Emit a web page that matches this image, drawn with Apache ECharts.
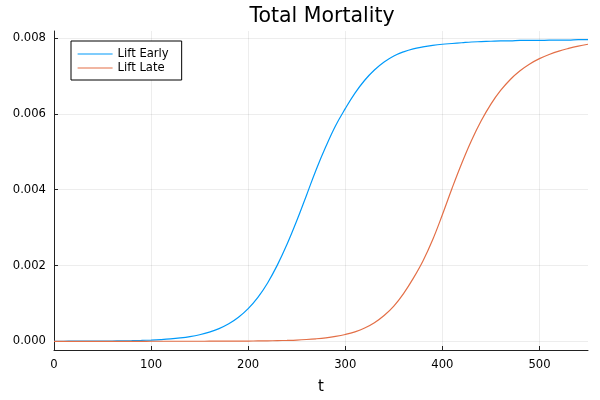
<!DOCTYPE html>
<html>
<head>
    <meta charset="utf-8">
    <style>
        html, body { margin: 0; padding: 0; background: #fff; }
        #chart { width: 600px; height: 400px; }
    </style>
</head>
<body>
    <div id="chart"></div>
    <script src="https://cdn.jsdelivr.net/npm/echarts@6/dist/echarts.min.js"></script>
    <script>
        var tValues = [0, 10, 20, 30, 40, 50, 60, 70, 80, 90,
            100, 110, 120, 130, 140, 150, 160, 170, 180, 190,
            200, 210, 220, 230, 240, 250, 260, 270, 280, 290,
            300, 310, 320, 330, 340, 350, 360, 370, 380, 390,
            400, 410, 420, 430, 440, 450, 460, 470, 480, 490,
            500, 510, 520, 530, 540, 550];

        var liftEarly = [0.000001, 0.0000015, 0.000002, 0.000003, 0.000004, 0.000006, 0.000008, 0.000012, 0.000016, 0.000023,
            0.000032, 0.000045, 0.000063, 0.000089, 0.000124, 0.000173, 0.000241, 0.000335, 0.000462, 0.000635,
            0.000863, 0.00116, 0.00154, 0.00201, 0.00256, 0.00318, 0.00385, 0.00453, 0.00514, 0.00569,
            0.00614, 0.00655, 0.00689, 0.00716, 0.00737, 0.00753, 0.00764, 0.00772, 0.00777, 0.00781,
            0.00784, 0.00786, 0.00788, 0.00790, 0.00791, 0.00792, 0.00793, 0.00793, 0.00794, 0.00794,
            0.00794, 0.00795, 0.00795, 0.00795, 0.00796, 0.00796];

        var liftLate = [0, 0, 0, 0, 0, 0, 0.0000001, 0.0000001, 0.0000002, 0.0000002,
            0.0000003, 0.0000004, 0.0000005, 0.0000007, 0.0000009, 0.0000012, 0.0000017, 0.0000023, 0.0000032, 0.0000045,
            0.0000063, 0.0000088, 0.000012, 0.000017, 0.000024, 0.000033, 0.000047, 0.000066, 0.000092, 0.000129,
            0.00018, 0.00025, 0.00035, 0.00049, 0.00068, 0.00093, 0.00126, 0.00166, 0.00212, 0.00268,
            0.00334, 0.00404, 0.00470, 0.00530, 0.00582, 0.00626, 0.00662, 0.00691, 0.00714, 0.00732,
            0.00746, 0.00757, 0.00766, 0.00773, 0.00779, 0.00784];

        var xTicks = [0, 100, 200, 300, 400, 500];
        var yTicks = [0, 0.002, 0.004, 0.006, 0.008];

        var font = 'DejaVu Sans';
        var axisColor = '#222';
        var gridColor = 'rgba(0,0,0,0.07)';

        function pairs(ys) {
            return tValues.map(function (t, i) { return [t, ys[i]]; });
        }

        var myChart = echarts.init(document.getElementById('chart'));
        var option = {
            animation: false,
            backgroundColor: '#fff',
            title: {
                text: 'Total Mortality',
                left: 317,
                textAlign: 'center',
                top: 1,
                textStyle: { fontFamily: font, fontSize: 20.5, fontWeight: 'normal', color: '#000' }
            },
            legend: {
                left: 71,
                top: 41,
                orient: 'vertical',
                backgroundColor: '#fff',
                borderColor: '#000',
                borderWidth: 1,
                borderRadius: 0,
                padding: [7, 13, 6, 6],
                itemGap: 2,
                itemWidth: 35,
                itemHeight: 12,
                itemStyle: { opacity: 0 },
                lineStyle: { width: 1.2 },
                textStyle: { fontFamily: font, fontSize: 11.6, color: '#000' },
                data: ['Lift Early', 'Lift Late']
            },
            grid: { left: 54, right: 12, top: 31, bottom: 45 },
            xAxis: {
                type: 'value',
                min: 0,
                max: 550,
                name: 't',
                nameLocation: 'middle',
                nameGap: 30,
                nameTextStyle: { fontFamily: font, fontSize: 15, color: '#000' },
                axisLine: { show: true, onZero: false, lineStyle: { color: axisColor, width: 1 } },
                axisTick: { show: true, inside: true, length: 4, customValues: xTicks, lineStyle: { color: axisColor } },
                axisLabel: { customValues: xTicks, fontFamily: font, fontSize: 11.6, color: '#000', margin: 9 },
                splitLine: { show: true, lineStyle: { color: gridColor, width: 1 } }
            },
            yAxis: {
                type: 'value',
                min: -0.00023,
                max: 0.00819,
                axisLine: { show: true, lineStyle: { color: axisColor, width: 1 } },
                axisTick: { show: true, inside: true, length: 4, customValues: yTicks, lineStyle: { color: axisColor } },
                axisLabel: {
                    customValues: yTicks,
                    fontFamily: font,
                    fontSize: 11.6,
                    color: '#000',
                    margin: 8,
                    formatter: function (v) { return v.toFixed(3); }
                },
                splitLine: { show: true, lineStyle: { color: gridColor, width: 1 } }
            },
            series: [
                {
                    name: 'Lift Early',
                    type: 'line',
                    data: pairs(liftEarly),
                    symbol: 'none',
                    smooth: 0.4,
                    color: '#009AFA',
                    lineStyle: { color: '#009AFA', width: 1.2 }
                },
                {
                    name: 'Lift Late',
                    type: 'line',
                    data: pairs(liftLate),
                    symbol: 'none',
                    smooth: 0.4,
                    color: '#E36F47',
                    lineStyle: { color: '#E36F47', width: 1.2 }
                }
            ]
        };
        myChart.setOption(option);
    </script>
</body>
</html>
